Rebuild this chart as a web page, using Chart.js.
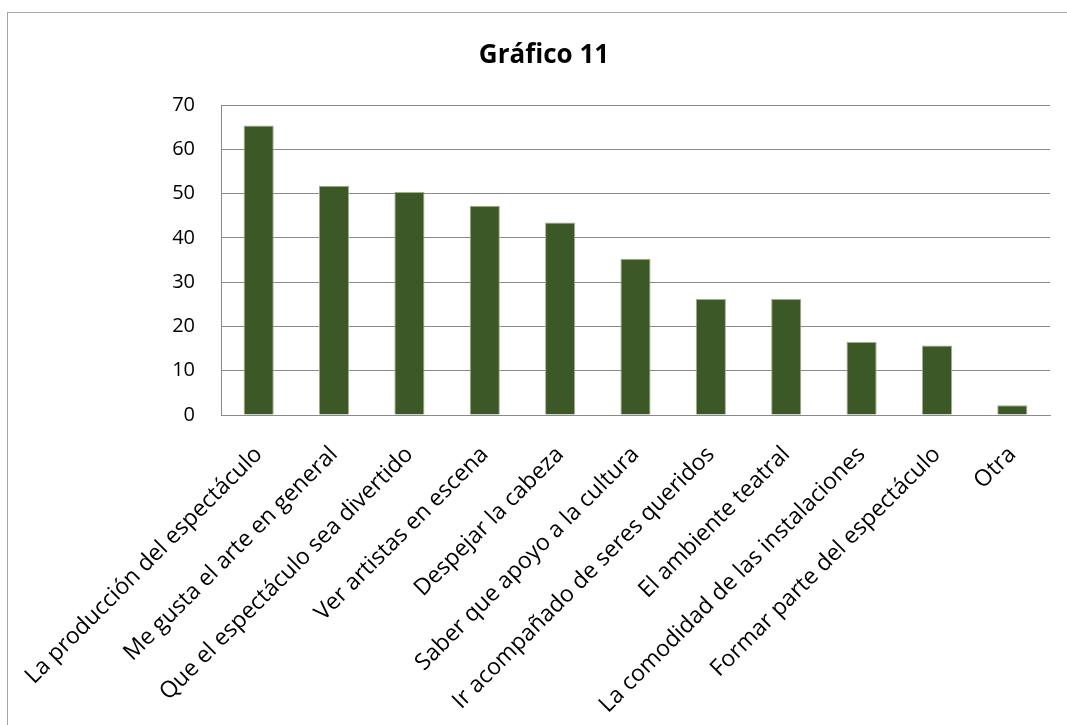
<!DOCTYPE html>
<html>
<head>
<meta charset="utf-8">
<script src="https://cdn.jsdelivr.net/npm/chart.js@4/dist/chart.umd.min.js"></script>
<style>
    html, body { margin: 0; padding: 0; background: #fff; overflow: hidden; }
    #box {
        position: absolute;
        left: 7px;
        top: 12px;
        width: 1074px;
        height: 730px;
        border: 1px solid #a6a6a6;
    }
    #chart { display: block; }
</style>
</head>
<body>
<div id="box">
    <canvas id="chart" width="1074" height="712"></canvas>
</div>
<script>
const categories = [
    'La producción del espectáculo',
    'Me gusta el arte en general',
    'Que el espectáculo sea divertido',
    'Ver artistas en escena',
    'Despejar la cabeza',
    'Saber que apoyo a la cultura',
    'Ir acompañado de seres queridos',
    'El ambiente teatral',
    'La comodidad de las instalaciones',
    'Formar parte del espectáculo',
    'Otra'
];
const values = [65.4, 51.8, 50.4, 47.3, 43.5, 35.3, 26.2, 26.2, 16.5, 15.7, 2.2];
const yTicks = [0, 10, 20, 30, 40, 50, 60, 70];

const FONT = '"Open Sans", sans-serif';
const GRID = '#8a8a8a';

const ctx = document.getElementById('chart').getContext('2d');
new Chart(ctx, {
    type: 'bar',
    data: {
        labels: categories,
        datasets: [{
            data: values,
            backgroundColor: '#3C5826',
            borderColor: '#9fb08f',
            borderWidth: 1,
            barPercentage: 0.4,
            categoryPercentage: 1
        }]
    },
    options: {
        responsive: false,
        animation: false,
        layout: {
            // left padding balances the right one so the title sits over the box centre
            padding: { left: 30, right: 32, top: 0, bottom: 0 }
        },
        plugins: {
            legend: { display: false },
            tooltip: { enabled: false },
            title: {
                display: true,
                text: 'Gráfico 11',
                color: '#000',
                font: { family: FONT, size: 26, weight: 'bold', lineHeight: 1.2 },
                padding: { top: 27, bottom: 34 }
            }
        },
        scales: {
            x: {
                grid: { display: false, drawTicks: false },
                border: { display: true, color: GRID, width: 1 },
                ticks: {
                    color: '#000',
                    font: { family: FONT, size: 23 },
                    maxRotation: 45,
                    minRotation: 45,
                    autoSkip: false,
                    padding: 26
                },
                afterFit: (scale) => {
                    scale.height = 310;
                    scale.paddingLeft = 0;
                    scale.paddingRight = 0;
                }
            },
            y: {
                min: 0,
                max: 70,
                afterBuildTicks: (scale) => {
                    scale.ticks = yTicks.map(v => ({ value: v }));
                },
                grid: { color: GRID, lineWidth: 1, drawTicks: false },
                border: { display: true, color: GRID, width: 1 },
                ticks: {
                    color: '#000',
                    font: { family: FONT, size: 20 },
                    padding: 26
                },
                afterFit: (scale) => {
                    scale.width = 183;
                }
            }
        }
    }
});
</script>
</body>
</html>
